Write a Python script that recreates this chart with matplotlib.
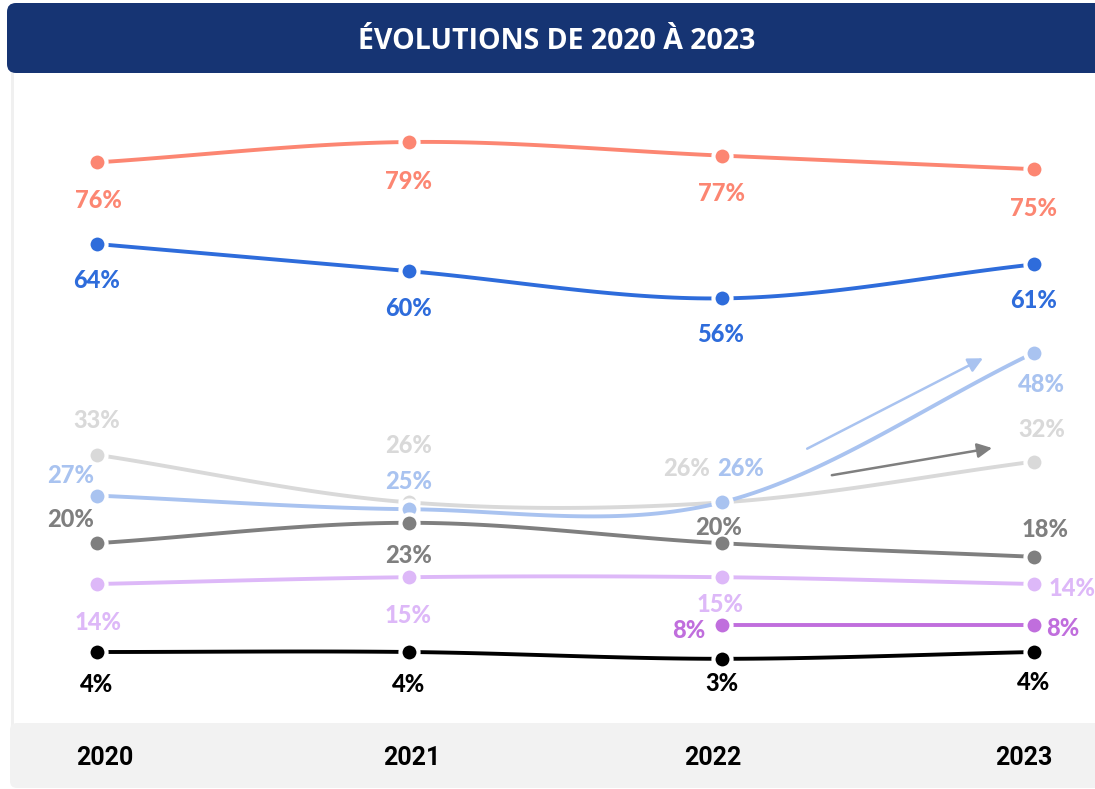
import numpy as np
import matplotlib
matplotlib.use("Agg")
import matplotlib.pyplot as plt
from matplotlib.patches import FancyBboxPatch, Rectangle

# ---------------- data ----------------
years = ["2020", "2021", "2022", "2023"]
title = "ÉVOLUTIONS DE 2020 À 2023"

salmon = [76, 79, 77, 75]
blue = [64, 60, 56, 61]
light_gray = [33, 26, 26, 32]
light_blue = [27, 25, 26, 48]
gray = [20, 23, 20, 18]
lavender = [14, 15, 15, 14]
purple = [None, None, 8, 8]
black = [4, 4, 3, 4]

# ---------------- styles ----------------
C_SALMON = "#FC8672"
C_BLUE = "#2E6CDB"
C_LGRAY = "#D9D9D9"
C_LBLUE = "#A9C3F0"
C_GRAY = "#7F7F7F"
C_LAV = "#DDB8F8"
C_PURPLE = "#C06EDD"
C_BLACK = "#000000"
C_BANNER = "#163473"

# label offsets in pixels (dx right, dy down) for each point
series = [
    (salmon, C_SALMON, [(1, 38), (-1, 39), (0, 38), (0, 39)]),
    (blue, C_BLUE, [(0, 37), (-1, 37), (-1, 36), (0, 36)]),
    (light_gray, C_LGRAY, [(0, -34), (-1, -57), (-35, -34), (8, -32)]),
    (light_blue, C_LBLUE, [(-26, -20), (-1, -28), (19, -34), (8, 32)]),
    (gray, C_GRAY, [(-26, -24), (-1, 33), (-3, -16), (11, -27)]),
    (lavender, C_LAV, [(1, 38), (-1, 38), (-2, 27), (38, 4)]),
    (purple, C_PURPLE, [None, None, (-33, 6), (29, 4)]),
    (black, C_BLACK, [(0, 32), (-1, 32), (0, 25), (0, 31)]),
]

W, H = 1095, 789
fig = plt.figure(figsize=(W / 100, H / 100), dpi=100)

# background decorations in pixel coords
bg = fig.add_axes([0, 0, 1, 1])
bg.set_xlim(0, W)
bg.set_ylim(H, 0)
bg.axis("off")

# left faint border of the panel
bg.add_patch(Rectangle((11, 60), 3, 670, facecolor="#F0F0F0", edgecolor="none"))
# bottom band
bg.add_patch(FancyBboxPatch((10, 723), W + 20, 65, boxstyle="round,pad=0,rounding_size=7",
                            facecolor="#F2F2F2", edgecolor="none"))
# title banner
bg.add_patch(FancyBboxPatch((7, 3), W + 20, 70, boxstyle="round,pad=0,rounding_size=9",
                            facecolor=C_BANNER, edgecolor="none"))
bg.text(557, 41, title, color="white", fontsize=20.5, fontweight="bold",
        family="Open Sans", ha="center", va="center")

# data axes
ax = fig.add_axes([0, 0, 1, 1])
ax.patch.set_alpha(0)
ax.axis("off")
px_per_cat = 312.3
x0_px = 97
ax.set_xlim(-x0_px / px_per_cat, (W - x0_px) / px_per_cat)
py0 = 679.2
py_per = 6.8
ax.set_ylim((py0 - H) / py_per, py0 / py_per)


def smooth(xs, ys, n=40):
    xs = np.asarray(xs, float)
    ys = np.asarray(ys, float)
    m = len(xs)
    tang = np.zeros(m)
    for i in range(m):
        if i == 0:
            tang[i] = ys[1] - ys[0]
        elif i == m - 1:
            tang[i] = ys[-1] - ys[-2]
        else:
            tang[i] = (ys[i + 1] - ys[i - 1]) / 2
    ox, oy = [], []
    for i in range(m - 1):
        t = np.linspace(0, 1, n)
        h00 = 2 * t**3 - 3 * t**2 + 1
        h10 = t**3 - 2 * t**2 + t
        h01 = -2 * t**3 + 3 * t**2
        h11 = t**3 - t**2
        dx = xs[i + 1] - xs[i]
        yy = h00 * ys[i] + h10 * dx * tang[i] + h01 * ys[i + 1] + h11 * dx * tang[i + 1]
        ox.extend(xs[i] + t * dx)
        oy.extend(yy)
    return np.array(ox), np.array(oy)


label_font = dict(family="Lato", fontweight="black", fontsize=17)

z = 3
for vals, col, offs in series:
    idx = [i for i, v in enumerate(vals) if v is not None]
    xs = idx
    ys = [vals[i] for i in idx]
    sx, sy = smooth(xs, ys)
    ax.plot(sx, sy, color=col, lw=2.8, solid_capstyle="round", zorder=z)
    ax.plot(xs, ys, "o", color=col, ms=13, mec="white", mew=3, zorder=z + 0.5)
    for i in idx:
        dx, dy = offs[i]
        ax.annotate(f"{vals[i]}%", (i, vals[i]), xytext=(dx, -dy),
                    textcoords="offset pixels", ha="center", va="center",
                    color=col, zorder=20, **label_font)
    z += 1

# trend arrows
ax.annotate("", xy=(2.837, 47.2), xytext=(2.274, 33.9),
            arrowprops=dict(arrowstyle="-|>", color=C_LBLUE, lw=1.8, mutation_scale=22,
                            shrinkA=0, shrinkB=0), zorder=25)
ax.annotate("", xy=(2.866, 34.0), xytext=(2.353, 30.0),
            arrowprops=dict(arrowstyle="-|>", color=C_GRAY, lw=1.8, mutation_scale=22,
                            shrinkA=0, shrinkB=0), zorder=25)

# year labels
year_offsets = [8, 3, -9, -10]
for i, (yr, dx) in enumerate(zip(years, year_offsets)):
    ax.annotate(yr, (i, (py0 - 758) / py_per), xytext=(dx, 0), textcoords="offset pixels",
                ha="center", va="center", family="Roboto", fontweight="bold",
                fontsize=18, color="black")

fig.savefig("out.png", dpi=100)
